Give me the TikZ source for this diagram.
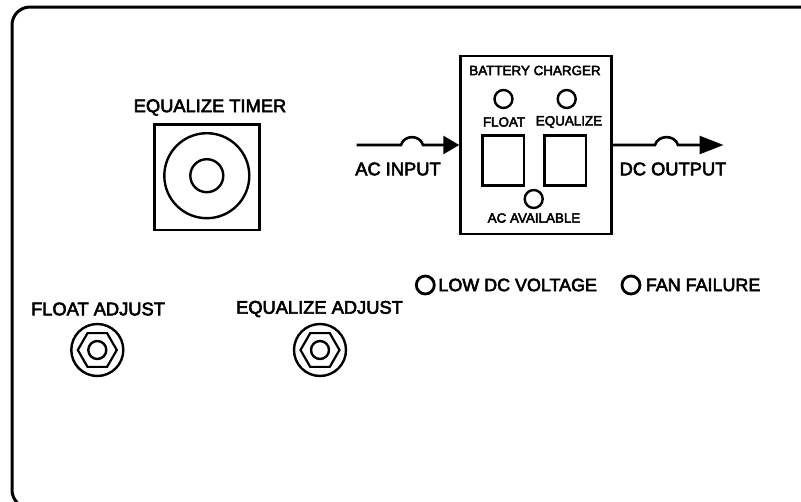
\documentclass[tikz,border=0pt]{standalone}
\usepackage{fontspec}
\setmainfont{Liberation Sans}[AutoFakeBold=3.2]
\usetikzlibrary{arrows.meta,shapes.geometric}
\begin{document}
\begin{tikzpicture}[x=1pt, y=-1pt]

    % estilos
    \tikzset{
        panel/.style={line width=3pt, rounded corners=18pt},
        caixa/.style={rectangle, draw, line width=2.8pt, inner sep=0pt},
        led/.style={circle, draw, line width=2.4pt, inner sep=0pt, minimum size=18pt},
        knob/.style={circle, draw, line width=2.4pt, inner sep=0pt},
        hexa/.style={regular polygon, regular polygon sides=6, draw, line width=2.2pt, inner sep=0pt, minimum size=39pt},
        wirein/.style={-{Triangle[length=16pt,width=18pt]}, line width=2.6pt},
        wireout/.style={-{Triangle[length=24pt,width=18pt]}, line width=2.6pt},
        rotulo/.style={inner sep=0pt, font=\fontsize{18.3}{20}\selectfont\bfseries},
        rotulop/.style={inner sep=0pt, font=\fontsize{13.4}{15}\selectfont\bfseries},
        alarme/.style={inner sep=0pt, anchor=west, font=\fontsize{17.9}{20}\selectfont\bfseries}
    }

    % limites da figura
    \useasboundingbox (0,0) rectangle (801,501);
    \clip (0,0) rectangle (801,501);

    % painel
    \draw[panel] (830,7) -- (12,7) -- (12,508) -- (830,508);

    % temporizador
    \node[rotulo] (timerlabel) at (210,107.5) {EQUALIZE TIMER};
    \node[caixa, minimum width=105pt, minimum height=105.5pt] (timer) at (206.8,177.2) {};
    \node[knob, minimum size=85pt] (timerouter) at (206.8,175.7) {};
    \node[knob, minimum size=33pt] (timerinner) at (206.8,175.7) {};

    % carregador
    \node[caixa, minimum width=151pt, minimum height=178pt] (charger) at (536.2,145) {};
    \node[rotulop] (chargerlabel) at (535,70.5) {BATTERY CHARGER};
    \node[led] (floatled) at (503.5,99) {};
    \node[led] (equalizeled) at (566.7,99) {};
    \node[rotulop] (floatlabel) at (504,122) {FLOAT};
    \node[rotulop] (equalizelabel) at (569,122) {EQUALIZE};
    \node[caixa, minimum width=41.5pt, minimum height=50pt] (floatsw) at (503.3,160.7) {};
    \node[caixa, minimum width=41.5pt, minimum height=50pt] (equalizesw) at (565.2,160.7) {};
    \node[led] (acled) at (533.7,199) {};
    \node[rotulop] (aclabel) at (534,218) {AC AVAILABLE};

    % entrada e saida
    \coordinate (acstart) at (356.5,145);
    \coordinate (acbumpa) at (401,145);
    \coordinate (acbumpb) at (423,145);
    \coordinate (dcbumpa) at (655,145);
    \coordinate (dcbumpb) at (678,145);
    \coordinate (dcend) at (723.5,145);
    \draw[wirein] (acstart) -- (acbumpa) .. controls +(3,-10.5) and +(-3,-10.5) .. (acbumpb) -- (charger.west);
    \draw[wireout] (charger.east) -- (dcbumpa) .. controls +(3,-10.5) and +(-3,-10.5) .. (dcbumpb) -- (dcend);
    \node[rotulo] (acinput) at (398,169) {AC INPUT};
    \node[rotulo] (dcoutput) at (673,169) {DC OUTPUT};

    % alarmes
    \node[led, minimum size=18pt, line width=2.8pt] (lowled) at (425.3,285) {};
    \node[alarme] (lowlabel) at (438.3,285) {LOW DC VOLTAGE};
    \node[led, minimum size=18pt, line width=2.8pt] (fanled) at (631,285) {};
    \node[alarme] (fanlabel) at (645.7,285) {FAN FAILURE};

    % ajustes
    \node[rotulo] (floatadj) at (98,309) {FLOAT ADJUST};
    \node[knob, minimum size=52pt] (floatouter) at (97.3,350) {};
    \node[hexa] (floathex) at (97.3,350) {};
    \node[knob, minimum size=18pt] (floatinner) at (97.3,350) {};

    \node[rotulo] (equalizeadj) at (319.5,309) {EQUALIZE ADJUST};
    \node[knob, minimum size=52pt] (equalizeouter) at (320,350) {};
    \node[hexa] (equalizehex) at (320,350) {};
    \node[knob, minimum size=18pt] (equalizeinner) at (320,350) {};

\end{tikzpicture}
\end{document}
